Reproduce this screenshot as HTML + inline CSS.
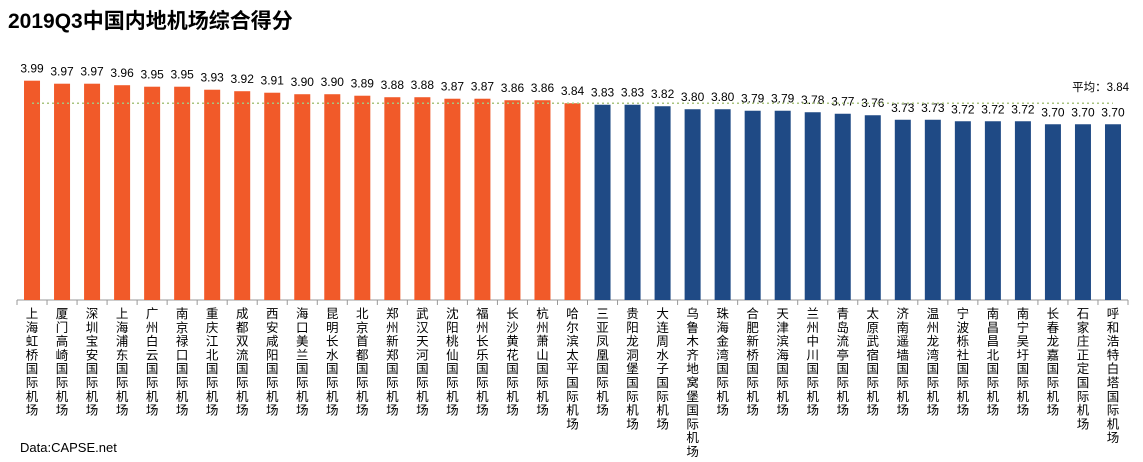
<!DOCTYPE html>
<html><head><meta charset="utf-8">
<style>
body{margin:0;background:#fff;width:1143px;height:457px;overflow:hidden;font-family:"Liberation Sans","Noto Sans CJK SC",sans-serif;}
svg text{font-family:"Liberation Sans","Noto Sans CJK SC",sans-serif;}
</style></head>
<body>
<svg id="chart" width="1143" height="457">
<text x="8" y="28" font-size="21" font-weight="bold" fill="#000">2019Q3中国内地机场综合得分</text>
<text x="20" y="452" font-size="13" fill="#000">Data:CAPSE.net</text>
</svg>
<script>
const categories=["上海虹桥国际机场","厦门高崎国际机场","深圳宝安国际机场","上海浦东国际机场","广州白云国际机场","南京禄口国际机场","重庆江北国际机场","成都双流国际机场","西安咸阳国际机场","海口美兰国际机场","昆明长水国际机场","北京首都国际机场","郑州新郑国际机场","武汉天河国际机场","沈阳桃仙国际机场","福州长乐国际机场","长沙黄花国际机场","杭州萧山国际机场","哈尔滨太平国际机场","三亚凤凰国际机场","贵阳龙洞堡国际机场","大连周水子国际机场","乌鲁木齐地窝堡国际机场","珠海金湾国际机场","合肥新桥国际机场","天津滨海国际机场","兰州中川国际机场","青岛流亭国际机场","太原武宿国际机场","济南遥墙国际机场","温州龙湾国际机场","宁波栎社国际机场","南昌昌北国际机场","南宁吴圩国际机场","长春龙嘉国际机场","石家庄正定国际机场","呼和浩特白塔国际机场"];
const scores=[3.99,3.97,3.97,3.96,3.95,3.95,3.93,3.92,3.91,3.90,3.90,3.89,3.88,3.88,3.87,3.87,3.86,3.86,3.84,3.83,3.83,3.82,3.80,3.80,3.79,3.79,3.78,3.77,3.76,3.73,3.73,3.72,3.72,3.72,3.70,3.70,3.70];
const averageValue=3.84;
const highlightCount=19;

const NS="http://www.w3.org/2000/svg";
const svg=document.getElementById('chart');
const x0=17,x1=1128,baseY=300,yMin=2.53,yMax=3.99,topY=80.7;
const band=(x1-x0)/categories.length;
function xC(i){return x0+band*(i+0.5);}
function yV(v){return baseY-(v-yMin)/(yMax-yMin)*(baseY-topY);}
function mk(t,a){const e=document.createElementNS(NS,t);for(const k in a)e.setAttribute(k,a[k]);svg.appendChild(e);return e;}

const axis=mk('line',{x1:x0,y1:baseY,x2:x1,y2:baseY,stroke:'#999','stroke-width':1});


for(let i=0;i<=categories.length;i++){
  const t=mk('line',{x1:x0+band*i,y1:baseY,x2:x0+band*i,y2:baseY+5,stroke:'#999'});
  
  
}
scores.forEach((v,i)=>{
  const y=yV(v);
  const b=mk('rect',{x:xC(i)-8,y:y,width:16,height:baseY-y,fill:i<highlightCount?'#F15A29':'#1F4A85'});
  
  
  const l=mk('text',{x:xC(i),y:y-8,'font-size':12,'text-anchor':'middle',fill:'#000'});
  l.textContent=v.toFixed(2);
  
  
  const c=mk('text',{x:xC(i),y:318,'font-size':12.5,'text-anchor':'middle',fill:'#000'});
  
  
  [...categories[i]].forEach((ch,k)=>{
    const s=document.createElementNS(NS,'tspan');
    s.setAttribute('x',xC(i));s.setAttribute('y',318+k*13.8);
    s.textContent=ch;c.appendChild(s);
  });
});
const ay=yV(averageValue);
const avg=mk('line',{x1:xC(0),y1:ay,x2:1113,y2:ay,stroke:'#A9C47F','stroke-width':1.5,'stroke-dasharray':'2,3'});


const at=mk('text',{x:1129,y:ay-12,'font-size':11.5,'text-anchor':'end',fill:'#000'});
at.textContent='平均：'+averageValue.toFixed(2);


</script>
</body></html>
